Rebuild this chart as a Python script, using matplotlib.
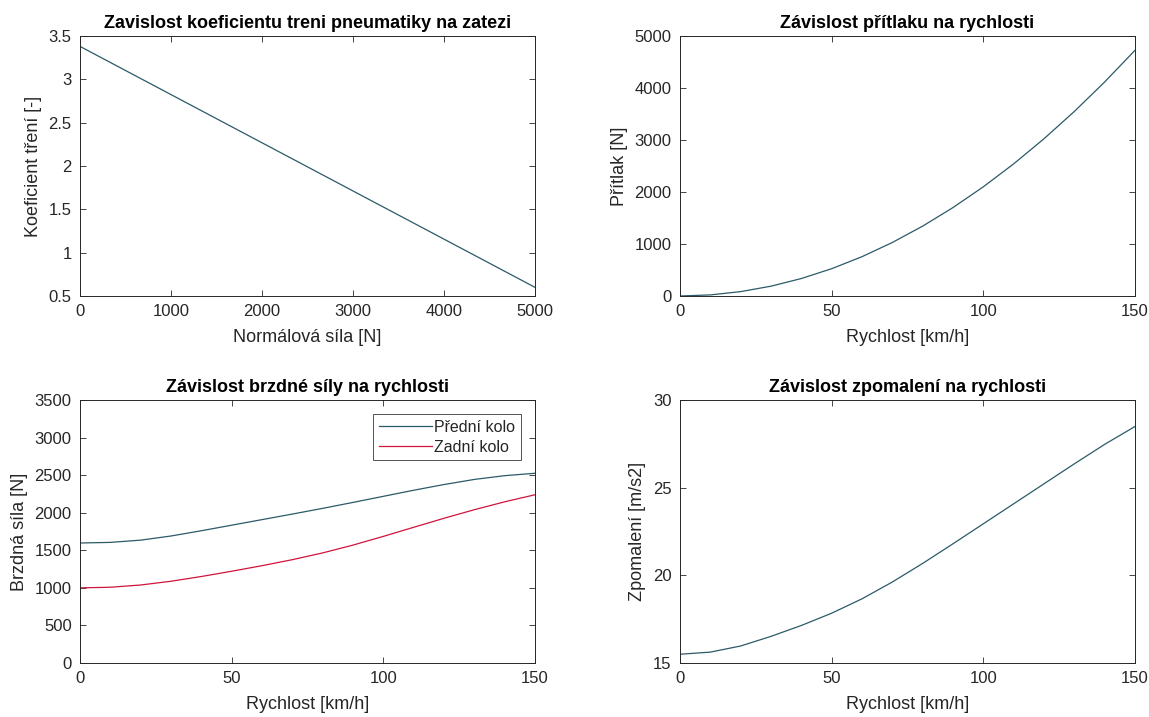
import numpy as np
import matplotlib.pyplot as plt

plt.rcParams['font.family'] = ['Liberation Sans', 'DejaVu Sans']

# koeficient treni pneumatiky vs normalova sila
sila = [0, 5000]
koef = [3.38, 0.60]

# rychlost [km/h]
rychlost = [0, 10, 20, 30, 40, 50, 60, 70, 80, 90, 100, 110, 120, 130, 140, 150]

# pritlak [N]
pritlak = [0, 21, 84, 189, 336, 525, 756, 1029, 1344, 1701, 2100, 2541, 3024, 3549, 4116, 4725]

# brzdna sila [N]
brzda_predni = [1597, 1605, 1635, 1690, 1760, 1834, 1908, 1982, 2058, 2137, 2218, 2299, 2375, 2443, 2493, 2525]
brzda_zadni = [1000, 1008, 1038, 1088, 1151, 1221, 1295, 1375, 1465, 1569, 1685, 1806, 1926, 2040, 2145, 2239]

# zpomaleni [m/s2]
zpomaleni = [15.50, 15.62, 15.97, 16.52, 17.14, 17.84, 18.66, 19.62, 20.68, 21.80,
             22.94, 24.08, 25.22, 26.36, 27.47, 28.49]

c_modra = '#2b5a68'
c_cervena = '#d0143c'
c_osy = '#262626'

W, H = 1149, 717
fig = plt.figure(figsize=(W / 100, H / 100), dpi=100)


def osa(x0, y0, x1, y1):
    # pozice v pixelech -> zlomky figury
    return fig.add_axes([x0 / W, 1 - y1 / H, (x1 - x0) / W, (y1 - y0) / H])


def styl(ax, title, xlabel, ylabel):
    ax.set_title(title, fontsize=13, fontweight='bold', pad=6, color='black')
    ax.set_xlabel(xlabel, fontsize=13, color=c_osy, labelpad=7)
    ax.set_ylabel(ylabel, fontsize=13, color=c_osy, labelpad=5)
    ax.tick_params(direction='in', top=True, right=True, length=4, width=0.6,
                   labelsize=12, colors=c_osy, pad=6)
    for s in ax.spines.values():
        s.set_color(c_osy)
        s.set_linewidth(0.7)


ax1 = osa(80, 36, 535, 296)
ax1.plot(sila, koef, color=c_modra, lw=0.9)
ax1.set_xlim(0, 5000)
ax1.set_ylim(0.5, 3.5)
ax1.set_xticks([0, 1000, 2000, 3000, 4000, 5000])
ax1.set_yticks([0.5, 1, 1.5, 2, 2.5, 3, 3.5])
ax1.set_yticklabels(['0.5', '1', '1.5', '2', '2.5', '3', '3.5'])
styl(ax1, 'Zavislost koeficientu treni pneumatiky na zatezi', 'Normálová síla [N]', 'Koeficient tření [-]')

ax2 = osa(680, 36, 1135, 296)
ax2.plot(rychlost, pritlak, color=c_modra, lw=0.9)
ax2.set_xlim(0, 150)
ax2.set_ylim(0, 5000)
ax2.set_xticks([0, 50, 100, 150])
ax2.set_yticks([0, 1000, 2000, 3000, 4000, 5000])
styl(ax2, 'Závislost přítlaku na rychlosti', 'Rychlost [km/h]', 'Přítlak [N]')

ax3 = osa(80, 400, 535, 663)
ax3.plot(rychlost, brzda_predni, color=c_modra, lw=0.9, label='Přední kolo')
ax3.plot(rychlost, brzda_zadni, color=c_cervena, lw=0.9, label='Zadní kolo')
ax3.set_xlim(0, 150)
ax3.set_ylim(0, 3500)
ax3.set_xticks([0, 50, 100, 150])
ax3.set_yticks(np.arange(0, 3501, 500))
styl(ax3, 'Závislost brzdné síly na rychlosti', 'Rychlost [km/h]', 'Brzdná síla [N]')
leg = ax3.legend(loc='upper right', fontsize=11.5, frameon=True, fancybox=False,
                 edgecolor=c_osy, handlelength=3.3, handletextpad=0.15,
                 borderpad=0.35, labelspacing=0.3, borderaxespad=0.9)
leg.get_frame().set_linewidth(0.7)
for t in leg.get_texts():
    t.set_color(c_osy)

ax4 = osa(680, 400, 1135, 663)
ax4.plot(rychlost, zpomaleni, color=c_modra, lw=0.9)
ax4.set_xlim(0, 150)
ax4.set_ylim(15, 30)
ax4.set_xticks([0, 50, 100, 150])
ax4.set_yticks([15, 20, 25, 30])
styl(ax4, 'Závislost zpomalení na rychlosti', 'Rychlost [km/h]', 'Zpomalení [m/s2]')

fig.savefig('out.png', dpi=100)
